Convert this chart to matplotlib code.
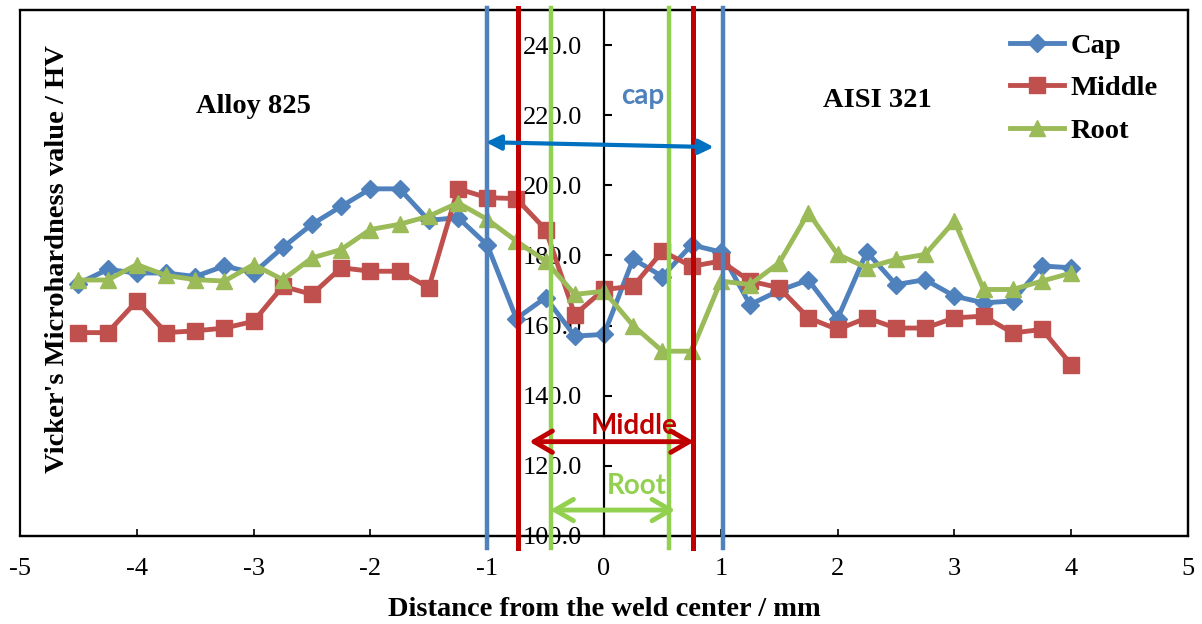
import numpy as np
import matplotlib.pyplot as plt
from matplotlib.patches import Rectangle

# distance from weld center (mm)
dist = [-4.5, -4.25, -4.0, -3.75, -3.5, -3.25, -3.0, -2.75, -2.5, -2.25,
        -2.0, -1.75, -1.5, -1.25, -1.0, -0.75, -0.5, -0.25, 0.0, 0.25,
        0.5, 0.75, 1.0, 1.25, 1.5, 1.75, 2.0, 2.25, 2.5, 2.75,
        3.0, 3.25, 3.5, 3.75, 4.0]

cap = [172, 176, 175, 175, 174, 177, 175, 182.3, 188.9, 194,
       199, 199, 190, 190.8, 183, 162, 168, 157, 157.5, 179,
       174, 183, 181, 166, 170, 173, 162, 181, 171.7, 173.1,
       168.4, 166.5, 167, 177, 176.5]
middle = [158, 158, 167, 158, 158.5, 159.3, 161.2, 171.2, 168.9, 176.5,
          175.5, 175.5, 170.8, 199, 196.5, 196.2, 187.4, 163.1, 170.3, 171.2,
          181.2, 176.9, 178.4, 172.7, 170.8, 162.2, 158.9, 162.2, 159.3, 159.3,
          162.2, 162.7, 157.9, 158.9, 148.9]
root = [173, 173, 177.4, 174.3, 173.1, 172.7, 177.4, 173.1, 179.3, 181.7,
        187.4, 188.9, 191.2, 195, 190.3, 184.1, 178.4, 168.9, 169.8, 160,
        152.7, 152.7, 172.7, 171.7, 177.9, 192.2, 180.3, 176.5, 178.9, 180.3,
        189.8, 170.3, 170.3, 172.7, 175]

# zone boundaries (mm)
cap_zone = [-1.0, 1.02]
middle_zone = [-0.74, 0.76]
root_zone = [-0.45, 0.56]

serif = 'Liberation Serif'
plt.rcParams['font.family'] = serif
plt.rcParams['axes.unicode_minus'] = False

fig = plt.figure(figsize=(12.02, 6.24), dpi=100)
ax = fig.add_axes([20/1202, 1-536/624, 1168/1202, 526/624])

ax.plot(dist, cap, color='#4F81BD', lw=3.5, marker='D', ms=9, label='Cap')
ax.plot(dist, middle, color='#C0504D', lw=3.5, marker='s', ms=11, label='Middle')
ax.plot(dist, root, color='#9BBB59', lw=3.5, marker='^', ms=12, label='Root')

for xs, c, w in [(cap_zone, '#4F81BD', 3.2), (middle_zone, '#C00000', 3.6), (root_zone, '#92D050', 3.2)]:
    for xv in xs:
        ax.plot([xv, xv], [96.7, 250.5], color=c, lw=w, clip_on=False, zorder=5)

ax.annotate('', xy=(-1.01, 212.3), xytext=(0.94, 210.9),
            arrowprops=dict(arrowstyle='<|-|>', color='#0070C0', lw=3, mutation_scale=22,
                            shrinkA=0, shrinkB=0), zorder=6)
ax.annotate('', xy=(-0.64, 126.9), xytext=(0.77, 126.9),
            arrowprops=dict(arrowstyle='<->,head_length=0.6,head_width=0.35', color='#C00000', lw=3.5,
                            mutation_scale=22, shrinkA=0, shrinkB=0), zorder=6)
ax.annotate('', xy=(-0.46, 107.4), xytext=(0.61, 107.4),
            arrowprops=dict(arrowstyle='<->,head_length=0.6,head_width=0.35', color='#92D050', lw=3.5,
                            mutation_scale=22, shrinkA=0, shrinkB=0), zorder=6)

ax.text(0.33, 225.4, 'cap', color='#4F81BD', fontsize=20, fontweight='bold', family='Lato',
        ha='center', va='center', zorder=7)
ax.text(0.26, 131.4, 'Middle', color='#C00000', fontsize=20, fontweight='bold', family='Lato',
        ha='center', va='center', zorder=7)
ax.text(0.28, 114.3, 'Root', color='#92D050', fontsize=20, fontweight='bold', family='Lato',
        ha='center', va='center', zorder=7)

ax.text(-3.0, 222.6, 'Alloy 825', fontsize=20.5, fontweight='bold', ha='center', va='center')
ax.text(2.34, 224.3, 'AISI 321', fontsize=20.5, fontweight='bold', ha='center', va='center')

ax.set_xlim(-5, 5)
ax.set_ylim(100, 250)
ax.set_xticks(range(-5, 6))
ax.set_yticks(np.arange(100, 241, 20))
ax.set_yticklabels(['%.1f' % v for v in np.arange(100, 241, 20)])

ax.spines['left'].set_position(('data', 0))
for s in ['left', 'bottom', 'top', 'right']:
    ax.spines[s].set_linewidth(1.6)
ax.add_patch(Rectangle((0, 0), 1, 1, transform=ax.transAxes, fill=False,
                       edgecolor='black', lw=1.6, clip_on=False, zorder=0))
ax.tick_params(axis='y', direction='in', length=6, width=1.5, pad=16, labelsize=19)
ax.tick_params(axis='x', direction='in', length=5, width=1.2, pad=16, labelsize=19)

ax.set_xlabel('Distance from the weld center / mm', fontsize=20.5, fontweight='bold', labelpad=12)
ax.text(0.032, 0.527, "Vicker's Microhardness value / HV", transform=ax.transAxes,
        rotation=90, fontsize=20.5, fontweight='bold', ha='center', va='center')

ax.legend(loc='upper left', bbox_to_anchor=(0.826, 1.005), frameon=False,
          prop={'family': serif, 'weight': 'bold', 'size': 20.5},
          handlelength=1.9, handletextpad=0.2, labelspacing=0.58)

fig.savefig('out.png', dpi=100)
